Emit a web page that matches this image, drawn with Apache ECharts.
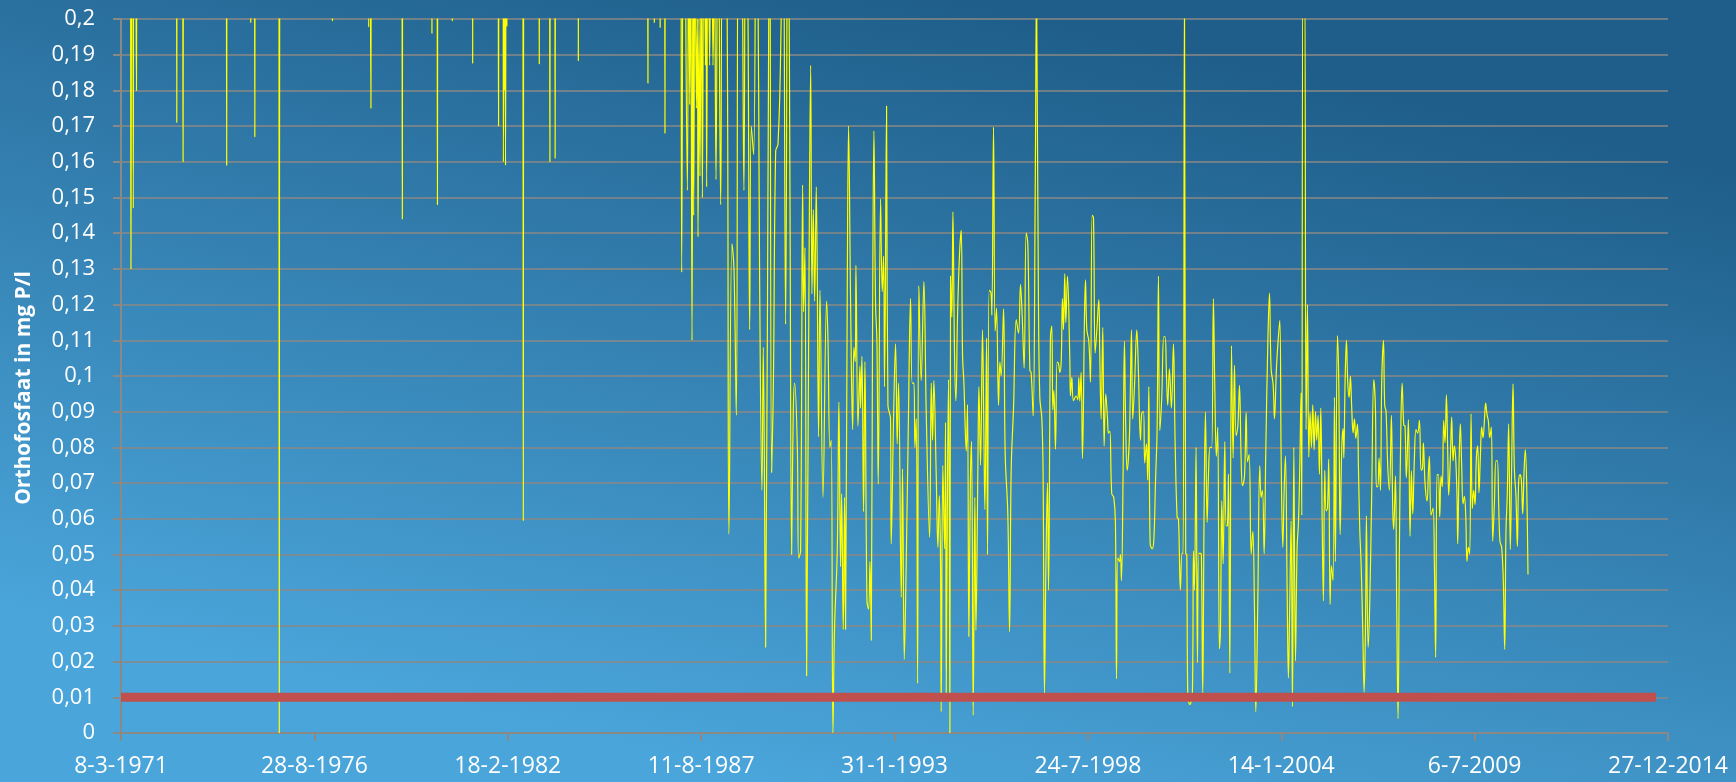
<!DOCTYPE html>
<html>
<head>
<meta charset="utf-8">
<script src="https://cdn.jsdelivr.net/npm/echarts@6/dist/echarts.min.js"></script>
<style>
html,body{margin:0;padding:0;background:#2d75a5;}
#chart{width:1736px;height:782px;}
</style>
</head>
<body>
<div id="chart"></div>
<script>
// ---- tick labels (Excel day serials 26000..42000 every 2000 days) ----
const xTickLabels = ['8-3-1971','28-8-1976','18-2-1982','11-8-1987','31-1-1993','24-7-1998','14-1-2004','6-7-2009','27-12-2014'];
const xMinSerial = 26000;
const xMaxSerial = 42000;
const xStepDays = 2000;
const yAxisTitle = 'Orthofosfaat in mg P/l';

// ---- norm line (mg P/l) ----
const normValue = 0.01;
const normDays = [26000, 41876];

// ---- measurements: [Excel day serial, orthofosfaat mg P/l] ----
const obs1971_1986 = [
[26005,0.30],[26095,0.27],[26103,0.13],[26112,0.25],[26120,0.26],[26127,0.147],[26135,0.28],[26150,0.24],[26160,0.18],[26170,0.27],
[26570,0.29],[26577,0.171],[26584,0.30],[26635,0.26],[26642,0.16],[26650,0.28],
[27085,0.30],[27093,0.159],[27100,0.27],[27335,0.25],[27342,0.199],[27349,0.26],[27377,0.28],[27384,0.167],[27391,0.30],
[27630,0.31],[27637,0.0],[27644,0.29],
[28180,0.26],[28187,0.1995],[28194,0.27],[28555,0.30],[28562,0.1977],[28572,0.25],[28585,0.175],[28592,0.29],
[28903,0.26],[28910,0.144],[28917,0.30],[29209,0.28],[29216,0.196],[29223,0.30],[29266,0.27],[29273,0.148],[29280,0.29],
[29420,0.25],[29427,0.1995],[29434,0.27],[29630,0.30],[29637,0.1876],[29644,0.28],
[29898,0.26],[29905,0.17],[29912,0.26],[29948,0.28],[29955,0.16],[29960,0.22],[29965,0.18],[29971,0.23],[29977,0.159],[29984,0.24],[29991,0.198],[29998,0.30],
[30154,0.28],[30161,0.0595],[30168,0.30],[30319,0.27],[30326,0.1874],[30333,0.29],[30429,0.26],[30436,0.16],[30443,0.28],[30483,0.30],[30490,0.161],[30497,0.27],
[30723,0.28],[30730,0.1883],[30737,0.30],
[31443,0.27],[31450,0.182],[31457,0.29],[31509,0.26],[31516,0.199],[31523,0.28],[31569,0.30],[31576,0.1976],[31583,0.27],[31619,0.29],[31626,0.168],[31633,0.30],[31700,0.28]
];

const obs1987_1991 = [
[31778,0.30],[31799,0.129],[31820,0.30],[31830,0.25],[31858,0.152],[31871,0.24],[31882,0.176],[31892,0.22],[31906,0.11],[31916,0.23],
[31923,0.145],[31937,0.23],[31951,0.175],[31961,0.2],[31968,0.139],[31978,0.2],[31988,0.156],[32002,0.22],[32013,0.15],[32030,0.25],
[32044,0.187],[32051,0.22],[32057,0.153],[32071,0.24],[32088,0.187],[32106,0.25],[32123,0.187],[32137,0.22],[32154,0.155],[32175,0.25],
[32202,0.148],[32226,0.23],[32264,0.22],[32288,0.0557],[32319,0.137],[32340,0.13],[32364,0.089],[32388,0.25],[32416,0.24],[32443,0.152],
[32461,0.26],[32485,0.2],[32502,0.113],[32519,0.17],[32543,0.162],[32571,0.25],[32595,0.18],[32605,0.127],[32629,0.068],[32643,0.108],
[32667,0.024],[32691,0.15],[32709,0.24],[32729,0.073],[32747,0.097],[32771,0.163],[32795,0.165],[32822,0.19],[32847,0.24],[32874,0.1145],
[32898,0.26],[32919,0.15],[32936,0.05],[32953,0.09],[32967,0.098],[32995,0.08],[33009,0.049],[33029,0.051],[33050,0.1535],[33060,0.118],
[33074,0.136],[33091,0.016],[33112,0.11],[33133,0.187],[33146,0.123],[33160,0.1466],[33174,0.121],[33191,0.153],[33215,0.083],[33229,0.124],
[33260,0.066],[33298,0.121],[33312,0.11],[33332,0.08],[33346,0.082],[33363,0.0]
];

const obs1991_1996 = [
[33380,0.0295],[33408,0.051],[33425,0.0927],[33442,0.0466],[33453,0.067],[33470,0.029],[33484,0.066],[33494,0.029],[33511,0.1217],[33525,0.17],
[33546,0.12],[33567,0.085],[33580,0.108],[33594,0.104],[33601,0.131],[33622,0.086],[33642,0.1028],[33649,0.091],[33663,0.1055],[33680,0.062],
[33694,0.104],[33715,0.037],[33732,0.0347],[33746,0.048],[33760,0.026],[33773,0.1126],[33787,0.1687],[33804,0.12],[33818,0.11],[33832,0.0697],
[33856,0.1496],[33873,0.1236],[33887,0.1336],[33897,0.097],[33918,0.1756],[33932,0.0918],[33959,0.088],[33966,0.053],[33990,0.088],[34011,0.109],
[34028,0.081],[34042,0.098],[34070,0.038],[34083,0.074],[34101,0.0206],[34121,0.047],[34145,0.09],[34166,0.1217],[34183,0.098],[34201,0.098],
[34211,0.080],[34225,0.088],[34239,0.0139],[34252,0.1253],[34276,0.0987],[34304,0.1265],[34328,0.09],[34363,0.0548],[34380,0.098],[34394,0.082],
[34407,0.0987],[34431,0.073],[34449,0.052],[34463,0.0665],[34476,0.048],[34483,0.006],[34500,0.075],[34518,0.0516],[34528,0.087],[34535,0.0113],
[34549,0.073],[34559,0.099],[34573,0.0],[34580,0.128],[34593,0.1165],[34604,0.146],[34621,0.106],[34635,0.093],[34652,0.117],[34673,0.1344],
[34690,0.1408],[34704,0.1055],[34718,0.098],[34742,0.079],[34755,0.092],[34769,0.027],[34786,0.072],[34797,0.0817],[34814,0.005],[34831,0.066],
[34842,0.0288],[34862,0.073],[34873,0.097],[34890,0.075],[34910,0.1129],[34924,0.085],[34935,0.0626],[34952,0.1106],[34962,0.05],[34979,0.124],
[34997,0.1234],[35007,0.117],[35024,0.1697],[35041,0.1126],[35055,0.119],[35076,0.0918],[35090,0.1039],[35103,0.1],[35128,0.1188],[35145,0.078],
[35172,0.0613],[35190,0.0284],[35207,0.074],[35231,0.091],[35259,0.1158],[35283,0.112],[35303,0.1256],[35321,0.1166],[35341,0.1022],[35362,0.14],
[35379,0.137],[35400,0.1016]
];

const obs1996_2002 = [
[35413,0.101],[35434,0.0888],[35455,0.15],[35469,0.21],[35489,0.12],[35503,0.094],[35524,0.088],[35537,0.072],[35551,0.011],[35565,0.045],
[35582,0.070],[35593,0.040],[35613,0.111],[35627,0.114],[35637,0.0905],[35648,0.096],[35665,0.0795],[35682,0.1039],[35696,0.1035],[35710,0.101],
[35724,0.1039],[35737,0.1217],[35748,0.113],[35761,0.1286],[35772,0.115],[35789,0.128],[35813,0.105],[35820,0.0944],[35834,0.0996],[35851,0.0931],
[35879,0.0944],[35896,0.0934],[35906,0.0996],[35916,0.093],[35930,0.101],[35944,0.0769],[35965,0.117],[35975,0.1269],[35989,0.113],[36010,0.1097],
[36027,0.0983],[36044,0.145],[36058,0.1443],[36075,0.1064],[36092,0.1126],[36113,0.1214],[36123,0.106],[36137,0.0879],[36154,0.1136],[36168,0.0804],
[36185,0.095],[36203,0.088],[36213,0.084],[36227,0.0845],[36247,0.067],[36268,0.066],[36285,0.059],[36296,0.0152],[36309,0.049],[36327,0.048],
[36337,0.05],[36347,0.0427],[36364,0.072],[36378,0.1097],[36392,0.085],[36406,0.0736],[36430,0.0833],[36451,0.1129],[36464,0.0879],[36482,0.097],
[36506,0.1129],[36523,0.101],[36544,0.082],[36557,0.0896],[36575,0.09],[36588,0.0756],[36606,0.081],[36619,0.0708],[36630,0.097],[36644,0.053],
[36664,0.0516],[36682,0.054],[36699,0.070],[36716,0.085],[36730,0.128],[36744,0.0847],[36764,0.094],[36785,0.111],[36799,0.111],[36812,0.101],
[36826,0.0918],[36843,0.102],[36864,0.091],[36885,0.109],[36902,0.082],[36923,0.0604],[36937,0.06],[36957,0.0401],[36974,0.0503],[36985,0.0503],
[36999,0.21],[37012,0.0503],[37023,0.050],[37033,0.011],[37054,0.008],[37081,0.011],[37092,0.051],[37102,0.040],[37119,0.080],[37133,0.0197],
[37147,0.0503],[37164,0.0503],[37174,0.05],[37188,0.011],[37202,0.062],[37216,0.0899],[37233,0.059],[37247,0.072],[37264,0.080],[37281,0.080],
[37298,0.1217],[37312,0.098],[37329,0.0775],[37343,0.0856],[37360,0.0236]
];

const obs2002_2007 = [
[37371,0.029],[37385,0.065],[37399,0.0474],[37416,0.0816],[37430,0.058],[37444,0.0582],[37454,0.0725],[37468,0.0168],[37485,0.1085],[37502,0.077],
[37516,0.103],[37533,0.0833],[37551,0.086],[37568,0.0974],[37585,0.077],[37599,0.0693],[37620,0.072],[37637,0.0898],[37651,0.076],[37668,0.078],
[37689,0.0502],[37706,0.0565],[37723,0.0348],[37737,0.006],[37757,0.036],[37778,0.0748],[37792,0.066],[37806,0.068],[37823,0.0502],[37840,0.079],
[37861,0.109],[37878,0.1232],[37895,0.102],[37916,0.0976],[37930,0.088],[37950,0.102],[37968,0.110],[37985,0.1155],[37999,0.077],[38016,0.052],
[38030,0.068],[38043,0.0776],[38061,0.04],[38074,0.0154],[38088,0.036],[38102,0.0594],[38116,0.0074],[38130,0.080],[38147,0.0202],[38164,0.052],
[38178,0.0588],[38192,0.075],[38205,0.0953],[38212,0.061],[38226,0.22],[38240,0.22],[38257,0.085],[38271,0.120],[38285,0.0773],[38298,0.0898],
[38312,0.080],[38326,0.0919],[38340,0.0793],[38354,0.090],[38367,0.082],[38381,0.089],[38395,0.0725],[38409,0.091],[38423,0.06],[38436,0.037],
[38450,0.0736],[38464,0.0622],[38478,0.063],[38491,0.0767],[38505,0.036],[38519,0.0468],[38536,0.0428],[38550,0.094],[38560,0.048],[38581,0.1113],
[38595,0.098],[38609,0.0556],[38626,0.080],[38640,0.0853],[38647,0.077],[38660,0.098],[38674,0.110],[38688,0.098],[38702,0.094],[38715,0.0999],
[38729,0.091],[38743,0.0841],[38757,0.088],[38771,0.0825],[38788,0.0865],[38798,0.075],[38812,0.057],[38826,0.0474],[38843,0.029],[38857,0.0114],
[38871,0.029],[38881,0.0608],[38898,0.024],[38915,0.036],[38936,0.068],[38957,0.099],[38974,0.091],[38984,0.069],[38998,0.069],[39012,0.077],
[39026,0.068],[39039,0.098],[39057,0.110],[39070,0.0919],[39084,0.090],[39101,0.075],[39119,0.068],[39139,0.089],[39153,0.063],[39163,0.057],
[39181,0.072],[39194,0.036],[39208,0.004],[39222,0.052],[39236,0.084],[39250,0.098],[39267,0.0862]
];

const obs2007_2011 = [
[39280,0.086],[39294,0.0715],[39315,0.0878],[39332,0.0551],[39346,0.0734],[39360,0.0614],[39377,0.077],[39394,0.085],[39411,0.084],[39429,0.0876],
[39446,0.0736],[39460,0.074],[39470,0.0813],[39487,0.07],[39508,0.065],[39522,0.073],[39532,0.0775],[39549,0.061],[39570,0.063],[39584,0.047],
[39597,0.0212],[39611,0.0724],[39625,0.0724],[39639,0.0605],[39653,0.072],[39666,0.069],[39680,0.0876],[39694,0.0813],[39708,0.0947],[39721,0.08],
[39732,0.0666],[39749,0.077],[39763,0.0885],[39777,0.0762],[39790,0.0804],[39804,0.077],[39818,0.066],[39825,0.053],[39839,0.075],[39852,0.0866],
[39866,0.075],[39880,0.0642],[39894,0.0663],[39908,0.061],[39921,0.0481],[39935,0.052],[39949,0.0502],[39963,0.0894],[39976,0.0629],[39990,0.068],
[40004,0.064],[40018,0.077],[40032,0.0804],[40045,0.0673],[40059,0.077],[40073,0.0857],[40087,0.0827],[40101,0.0874],[40114,0.0924],[40128,0.0892],
[40142,0.0874],[40156,0.0827],[40173,0.0857],[40187,0.0537],[40204,0.064],[40221,0.0762],[40235,0.0762],[40249,0.064],[40262,0.0537],[40280,0.0519],
[40297,0.0425],[40311,0.0234],[40324,0.056],[40338,0.067],[40352,0.0866],[40369,0.0514],[40383,0.075],[40397,0.0978],[40411,0.074],[40428,0.066],
[40442,0.0523],[40455,0.07],[40469,0.0724],[40483,0.071],[40497,0.0614],[40511,0.073],[40524,0.0794],[40538,0.07],[40552,0.0444]
];

const measurements = [].concat(obs1971_1986, obs1987_1991, obs1991_1996, obs1996_2002, obs2002_2007, obs2007_2011);
const normLine = [[normDays[0], normValue], [normDays[1], normValue]];

const gridColor = '#8B8985';
const chart = echarts.init(document.getElementById('chart'), null, {renderer: 'canvas'});
chart.setOption({
  animation: false,
  backgroundColor: {
    type: 'linear', x: 0.55, y: 0, x2: 0.45, y2: 1,
    colorStops: [{offset: 0, color: '#1F5E8A'}, {offset: 1, color: '#4AA5DA'}]
  },
  grid: {left: 121, right: 68, top: 19, bottom: 49, containLabel: false},
  xAxis: {
    type: 'value', min: xMinSerial, max: xMaxSerial, interval: xStepDays,
    axisLine: {show: true, lineStyle: {color: gridColor, width: 2}},
    axisTick: {show: true, length: 8, inside: false, lineStyle: {color: gridColor, width: 2}},
    splitLine: {show: false},
    axisLabel: {
      color: '#ffffff', fontFamily: 'Open Sans', fontSize: 23, margin: 22,
      showMinLabel: true, showMaxLabel: true,
      formatter: function (v) { return xTickLabels[Math.round((v - xMinSerial) / xStepDays)] || ''; }
    }
  },
  yAxis: {
    type: 'value', min: 0, max: 0.2, interval: 0.01,
    axisLine: {show: true, lineStyle: {color: gridColor, width: 2}},
    axisTick: {show: true, length: 8, inside: false, lineStyle: {color: gridColor, width: 2}},
    splitLine: {show: true, lineStyle: {color: gridColor, width: 1.5}},
    axisLabel: {
      color: '#ffffff', fontFamily: 'Open Sans', fontSize: 22, margin: 26,
      formatter: function (v) { return v === 0 ? '0' : String(parseFloat(v.toFixed(2))).replace('.', ','); }
    }
  },
  graphic: [{
    type: 'text', x: 24, y: 388, rotation: Math.PI / 2,
    style: {text: yAxisTitle, fill: '#ffffff', fontFamily: 'Open Sans', fontWeight: 'bold', fontSize: 21, align: 'center', verticalAlign: 'middle'}
  }],
  series: [
    {
      type: 'line', data: measurements, symbol: 'none', showSymbol: false, smooth: 0.4, clip: true,
      lineStyle: {color: '#FFFF00', width: 1.2}, z: 3
    },
    {
      type: 'line', data: normLine, symbol: 'none', showSymbol: false, clip: true,
      lineStyle: {color: '#C0504D', width: 9, cap: 'butt'}, z: 4
    }
  ]
});
</script>
</body>
</html>
